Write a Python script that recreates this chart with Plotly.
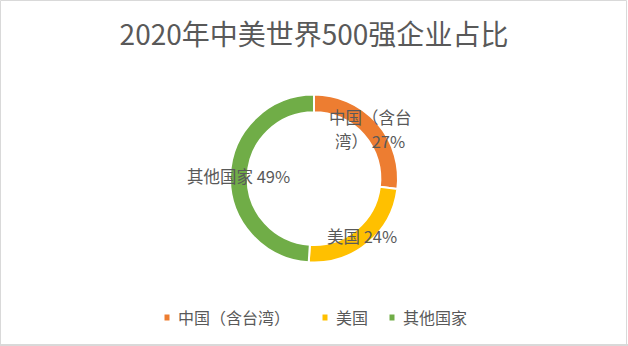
import math
import plotly.graph_objects as go

# Share of Fortune Global 500 companies, 2020
labels = ["中国（含台湾）", "美国", "其他国家"]
shares = [27, 24, 49]
colors = ["#ED7D31", "#FFC000", "#70AD47"]

W, H = 628, 346
CX, CY, R = 314, 178.5, 84      # donut centre and outer radius, px
HOLE = 0.79
TEXT = "#595959"
FONT = "Noto Sans CJK SC"
LABEL_SIZE = 16.5
LINE_GAP = 24                   # px between wrapped label lines
WRAP_AT = 5                     # characters per line before a label wraps

# bottom legend layout (px)
LEGEND_Y = 317
LEGEND_KEY_X = [164.5, 322.5, 389.5]
KEY_W, KEY_H = 5, 6
KEY_TEXT_GAP = 6

fig = go.Figure()

fig.add_trace(go.Pie(
    labels=labels,
    values=shares,
    sort=False,
    direction="clockwise",
    rotation=0,
    hole=HOLE,
    marker=dict(colors=colors, line=dict(color="white", width=2)),
    textinfo="none",
    hoverinfo="label+percent",
    showlegend=False,
    domain=dict(x=[(CX - R) / W, (CX + R) / W],
                y=[(H - CY - R) / H, (H - CY + R) / H]),
))

# data labels placed at the middle of each ring segment
total = sum(shares)
r_mid = R * (1 + HOLE) / 2
annotations = []
cum = 0
for name, v in zip(labels, shares):
    mid = (cum + v / 2) / total
    cum += v
    th = 2 * math.pi * mid
    px = CX + r_mid * math.sin(th)
    py = CY - r_mid * math.cos(th)
    if len(name) > WRAP_AT:
        lines = [name[:WRAP_AT], f"{name[WRAP_AT:]} {v}%"]
    else:
        lines = [f"{name} {v}%"]
    n = len(lines)
    for i, line in enumerate(lines):
        annotations.append(dict(
            x=px / W, y=1 - py / H, xref="paper", yref="paper",
            yshift=((n - 1) / 2 - i) * LINE_GAP,
            text=line, showarrow=False,
            xanchor="center", yanchor="middle", align="center",
            font=dict(family=FONT, size=LABEL_SIZE, color=TEXT),
        ))

# legend: small square key followed by the series name
shapes = []
for name, c, kx in zip(labels, colors, LEGEND_KEY_X):
    shapes.append(dict(
        type="rect", xref="paper", yref="paper",
        x0=kx / W, x1=(kx + KEY_W) / W,
        y0=1 - (LEGEND_Y + KEY_H / 2 + 0.5) / H,
        y1=1 - (LEGEND_Y - KEY_H / 2 + 0.5) / H,
        line=dict(width=0), fillcolor=c,
    ))
    annotations.append(dict(
        x=(kx + KEY_W + KEY_TEXT_GAP) / W, y=1 - LEGEND_Y / H,
        xref="paper", yref="paper", text=name, showarrow=False,
        xanchor="left", yanchor="middle",
        font=dict(family=FONT, size=16, color=TEXT),
    ))

# chart frame
shapes += [
    dict(type="rect", xref="paper", yref="paper",
         x0=0.5 / W, x1=626.5 / W, y0=1 / H, y1=1 - 0.5 / H,
         line=dict(color="#d9d9d9", width=1), fillcolor="rgba(0,0,0,0)"),
    dict(type="rect", xref="paper", yref="paper",
         x0=0, x1=1, y0=0, y1=2 / H,
         line=dict(width=0), fillcolor="#d9d9d9"),
]

fig.update_layout(
    width=W, height=H,
    margin=dict(l=0, r=0, t=0, b=0),
    paper_bgcolor="white", plot_bgcolor="white",
    font=dict(family=FONT, color=TEXT),
    title=dict(text="2020年中美世界500强企业占比", x=0.5, xanchor="center",
               y=1 - 35 / H, yanchor="middle",
               font=dict(family=FONT, size=28, color=TEXT)),
    showlegend=False,
    annotations=annotations,
    shapes=shapes,
)

fig.write_html("out.html")
